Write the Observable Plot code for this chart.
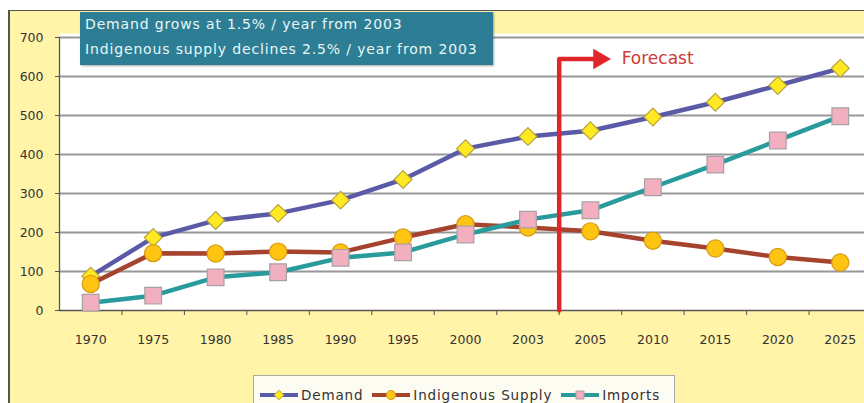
<!DOCTYPE html>
<html>
<head>
<meta charset="utf-8">
<script src="https://cdn.jsdelivr.net/npm/d3@7"></script>
<script src="https://cdn.jsdelivr.net/npm/@observablehq/plot@0.6"></script>
<style>
  html, body { margin: 0; padding: 0; background: #fff; overflow: hidden; }
  #wrap { position: relative; width: 864px; height: 403px; font-family: "DejaVu Sans", sans-serif; }
  #panel { position: absolute; left: 8px; top: 10px; right: 0; bottom: 0;
           background: #fff4a8; border-top: 1.5px solid #555; border-left: 2px solid #555; }
  #chart { position: absolute; left: 0; top: 0; }
  #note { position: absolute; left: 80px; top: 12px; width: 413px; height: 53px; box-sizing: border-box;
          background: #2d7e95; color: #e8f6f6; font-size: 14px; letter-spacing: 0.85px; line-height: 25px;
          padding: 0 0 0 5px; box-shadow: 1px 1px 2px rgba(0,0,0,0.35); white-space: nowrap; }
  #legend { position: absolute; left: 253px; top: 375px; width: 422px; height: 40px; box-sizing: border-box;
            background: #fdfcf2; border: 1px solid #aaa; font-size: 13.5px; letter-spacing: 0.85px; color: #333;
            display: flex; align-items: flex-start; padding: 11px 0 0 6px; gap: 9px; white-space: nowrap; }
  #legend .item { display: flex; align-items: center; gap: 3px; }
</style>
</head>
<body>
<div id="wrap">
  <div id="panel"></div>
  <div id="chart"></div>
  <div id="note">Demand grows at 1.5% / year from 2003<br>Indigenous supply declines 2.5% / year from 2003</div>
  <div id="legend"></div>
</div>
<script>
// Category labels along the bottom axis
const years = ["1970", "1975", "1980", "1985", "1990", "1995", "2000", "2003", "2005", "2010", "2015", "2020", "2025"];

// Series values
const demand     = [88, 187, 231, 249, 283, 336, 415, 446, 461, 496, 534, 577, 621];
const indigenous = [68, 147, 146, 151, 149, 187, 221, 213, 203, 179, 159, 137, 123];
const imports    = [20, 38, 85, 98, 135, 149, 195, 233, 257, 316, 374, 436, 498];

// Value axis ticks
const yTicks = [0, 100, 200, 300, 400, 500, 600, 700];

// Forecast period starts with this category
const forecastStart = "2005";
const forecastLevel = 645;

const series = [
  {name: "Demand", values: demand, line: "#5a5aa6", symbol: "diamond2", r: 8, fill: "#ffe923", stroke: "#b5a33c"},
  {name: "Indigenous Supply", values: indigenous, line: "#a6432f", symbol: "circle", r: 8.6, fill: "#ffc312", stroke: "#d79a12"},
  {name: "Imports", values: imports, line: "#2a9b9c", symbol: "square", r: 9.4, fill: "#f1afc0", stroke: "#a9a0a4"}
];

// Each category occupies one unit; points sit in the middle of their slot
const slot = years.map((_, i) => i + 0.5);
const boundaries = d3.range(1, years.length + 1);
const fIdx = years.indexOf(forecastStart);

const marks = [
  Plot.frame({fill: "white", stroke: "none"}),
  Plot.ruleY(yTicks.filter(d => d > 0), {stroke: "#989898", strokeWidth: 2.2}),
  Plot.ruleX([0], {y1: 0, y2: yTicks[yTicks.length - 1], stroke: "#555", strokeWidth: 1.3}),
  Plot.ruleY([0], {stroke: "#555", strokeWidth: 1.3}),
  Plot.axisY(yTicks, {label: null, tickSize: 4, tickPadding: 12, fontSize: 12.5, color: "#333", stroke: "#555"}),
  Plot.axisX(slot, {label: null, tickSize: 0, tickPadding: 25, fontSize: 12.5, color: "#333",
                    tickFormat: d => years[Math.floor(d)]}),
  Plot.axisX(boundaries, {label: null, tickSize: 5, tickFormat: () => "", stroke: "#555"})
];

for (const s of series) {
  const rows = years.map((y, i) => ({x: slot[i], v: s.values[i]}));
  marks.push(Plot.line(rows, {x: "x", y: "v", stroke: s.line, strokeWidth: 4.5, curve: "linear"}));
  marks.push(Plot.dot(rows, {x: "x", y: "v", symbol: s.symbol, r: s.r, fill: s.fill, stroke: s.stroke, strokeWidth: 1.2}));
}

// Forecast bracket: rises from the axis at the start of the forecast period, then points right
const bracket = [{x: fIdx, y: 0}, {x: fIdx, y: forecastLevel}, {x: fIdx + 0.6, y: forecastLevel}];
marks.push(Plot.line(bracket, {x: "x", y: "y", stroke: "#e0262a", strokeWidth: 4.5}));
marks.push(Plot.dot([{x: fIdx + 0.64, y: forecastLevel}], {x: "x", y: "y", symbol: "triangle", rotate: 90, r: 7.6, fill: "#e0262a", stroke: "none"}));
marks.push(Plot.text([{x: fIdx + 1.0, y: forecastLevel, t: "Forecast"}], {x: "x", y: "y", text: "t", textAnchor: "start", fontSize: 17, fill: "#cf3b36"}));

const chart = Plot.plot({
  width: 864,
  height: 403,
  marginLeft: 59,
  marginRight: 0,
  marginTop: 33,
  marginBottom: 93,
  style: {background: "transparent", fontFamily: "DejaVu Sans, sans-serif", overflow: "visible"},
  x: {type: "linear", domain: [0, years.length], range: [59, 871]},
  y: {type: "linear", domain: [0, 700], range: [310, 37]},
  marks
});
document.getElementById("chart").appendChild(chart);

// Legend entries: line swatch with the series marker in the middle
const legend = d3.select("#legend");
for (const s of series) {
  const item = legend.append("div").attr("class", "item");
  const svg = item.append("svg").attr("width", 38).attr("height", 14);
  svg.append("line").attr("x1", 0).attr("x2", 38).attr("y1", 7).attr("y2", 7)
     .attr("stroke", s.line).attr("stroke-width", 4);
  const sym = {diamond2: d3.symbolDiamond2, circle: d3.symbolCircle, square: d3.symbolSquare}[s.symbol];
  svg.append("path").attr("transform", "translate(19,7)")
     .attr("d", d3.symbol(sym, s.symbol === "diamond2" ? 60 : 65)())
     .attr("fill", s.fill).attr("stroke", s.stroke).attr("stroke-width", 1);
  item.append("span").text(s.name);
}
</script>
</body>
</html>
